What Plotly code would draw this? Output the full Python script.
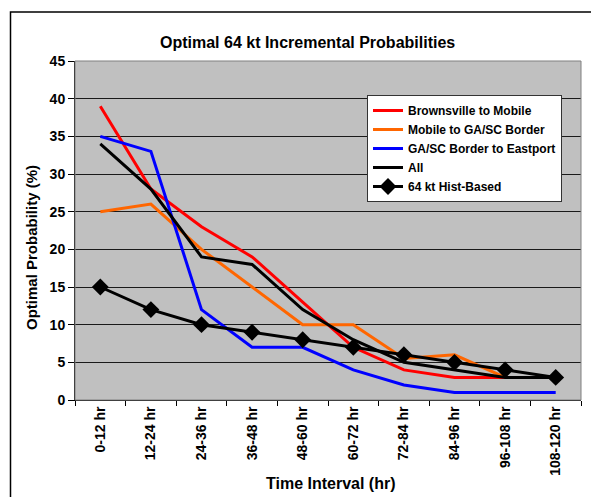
import plotly.graph_objects as go

categories = ["0-12 hr", "12-24 hr", "24-36 hr", "36-48 hr", "48-60 hr",
              "60-72 hr", "72-84 hr", "84-96 hr", "96-108 hr", "108-120 hr"]
brownsville_mobile = [39, 28, 23, 19, 13, 7, 4, 3, 3, None]
mobile_gasc = [25, 26, 20, 15, 10, 10, 5.5, 6, 3, None]
gasc_eastport = [35, 33, 12, 7, 7, 4, 2, 1, 1, 1]
all_regions = [34, 28, 19, 18, 12, 8, 5, 4, 3, 3]
hist_based = [15, 12, 10, 9, 8, 7, 6, 5, 4, 3]

FONT = "Liberation Sans, Arial, sans-serif"

fig = go.Figure()
series = [
    ("Brownsville to Mobile", brownsville_mobile, "#FF0000", False),
    ("Mobile to GA/SC Border", mobile_gasc, "#FF6600", False),
    ("GA/SC Border to Eastport", gasc_eastport, "#0000FF", False),
    ("All", all_regions, "#000000", False),
    ("64 kt Hist-Based", hist_based, "#000000", True),
]
for name, vals, color, markers in series:
    fig.add_trace(go.Scatter(
        x=categories, y=vals, name=name,
        mode="lines+markers" if markers else "lines",
        line=dict(color=color, width=3),
        marker=dict(symbol="diamond", size=13, color="#000000") if markers else None,
        connectgaps=False,
    ))

# page body has an 8px margin, so work in page coords minus 8
OFF = 8
W, H = 599 - OFF, 497 - OFF
L, R, T, B = 75 - OFF, 581 - OFF, 61 - OFF, 400 - OFF
PW, PH = R - L, B - T


def px(x):
    return (x - OFF - L) / PW


def py(y):
    return (B - (y - OFF)) / PH


fig.update_layout(
    width=W, height=H, autosize=False,
    margin=dict(l=L, r=W - R, t=T, b=H - B),
    paper_bgcolor="white",
    plot_bgcolor="#C0C0C0",
    font=dict(family=FONT, size=12, color="black"),
    showlegend=True,
    legend=dict(
        x=px(367), y=py(95),
        xanchor="left", yanchor="top",
        bgcolor="white", bordercolor="#333333", borderwidth=1,
        font=dict(family=FONT, size=12, color="black", weight="bold"),
        itemwidth=30, tracegroupgap=0,
    ),
    xaxis=dict(
        type="category", range=[-0.5, 9.5],
        tickangle=-90, ticks="outside", ticklen=5, tickcolor="black",
        tickson="boundaries", automargin=False,
        showline=True, linecolor="black", linewidth=1,
        showgrid=False, zeroline=False,
        tickfont=dict(family=FONT, size=14, color="black", weight="bold"),
    ),
    yaxis=dict(
        range=[0, 45], dtick=5, tick0=0, automargin=False,
        ticks="outside", ticklen=6, tickcolor="black",
        showline=True, linecolor="black", linewidth=1,
        showgrid=True, gridcolor="#1a1a1a", gridwidth=1,
        zeroline=False,
        tickfont=dict(family=FONT, size=14, color="black", weight="bold"),
    ),
    annotations=[
        dict(text="<b>Optimal 64 kt Incremental Probabilities</b>",
             xref="paper", yref="paper", x=px(307), y=py(42),
             xanchor="center", yanchor="middle", showarrow=False,
             font=dict(family=FONT, size=16, color="black")),
        dict(text="<b>Optimal Probability (%)</b>",
             xref="paper", yref="paper", x=px(31), y=py(248),
             xanchor="center", yanchor="middle", showarrow=False, textangle=-90,
             font=dict(family=FONT, size=15, color="black")),
        dict(text="<b>Time Interval (hr)</b>",
             xref="paper", yref="paper", x=px(331), y=py(483),
             xanchor="center", yanchor="middle", showarrow=False,
             font=dict(family=FONT, size=16, color="black")),
    ],
    shapes=[
        dict(type="rect", xref="paper", yref="paper", x0=0, x1=1, y0=0, y1=1,
             line=dict(color="#808080", width=1), fillcolor="rgba(0,0,0,0)", layer="above"),
        dict(type="rect", xref="paper", yref="paper",
             x0=px(10.5), x1=px(640), y0=py(540), y1=py(12),
             line=dict(color="black", width=1.5), fillcolor="rgba(0,0,0,0)", layer="above"),
    ],
)

fig.write_html("out.html")
